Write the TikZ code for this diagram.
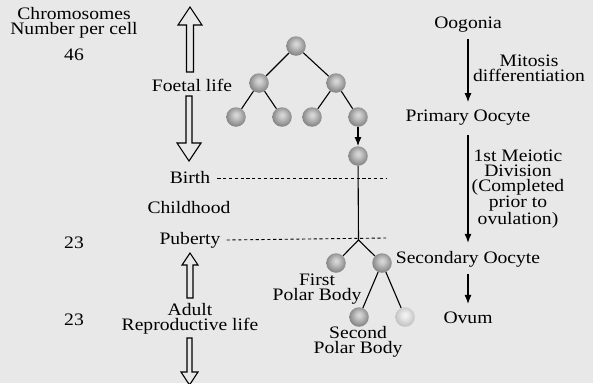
\documentclass[tikz,border=0pt]{standalone}
\usepackage{fontspec}
\setmainfont{Liberation Serif}[FakeStretch=1.12]
\usetikzlibrary{arrows.meta}
\definecolor{bg}{RGB}{232,232,232}
\pgfdeclareradialshading{myball}{\pgfpoint{0bp}{6bp}}{color(0bp)=(black!14); color(8bp)=(black!22); color(24bp)=(black!45); color(38bp)=(black!65); color(46bp)=(black!78); color(50bp)=(black!82)}
\pgfdeclareradialshading{mylball}{\pgfpoint{0bp}{6bp}}{color(0bp)=(black!4); color(10bp)=(black!10); color(26bp)=(black!24); color(40bp)=(black!38); color(46bp)=(black!48); color(50bp)=(black!55)}
\begin{document}
\begin{tikzpicture}[x=1pt,y=-1pt,
  txt/.style={font=\fontsize{17.5}{15}\selectfont, inner sep=0pt, align=center},
  ball/.style={circle, minimum size=19.5pt, inner sep=0pt, shading=myball},
  lball/.style={circle, minimum size=19.5pt, inner sep=0pt, shading=mylball},
  conn/.style={line width=1.1pt},
  arr/.style={line width=1.1pt, -{Latex[length=9pt,width=7pt]}},
  hol/.style={draw, line width=1.1pt, fill=bg, line join=miter},
  dline/.style={line width=0.9pt, dash pattern=on 3.2pt off 2.6pt}
]
\fill[bg] (0,0) rectangle (593,383);
\useasboundingbox (0,0) rectangle (593,383);

% left column
\node[txt] (chr) at (74,23) {Chromosomes\\Number per cell};
\node[txt] (n46) at (74,55) {46};
\node[txt] (n23a) at (74,243) {23};
\node[txt] (n23b) at (74,320) {23};

% middle labels
\node[txt] (foetal) at (192,85) {Foetal life};
\node[txt] (birth) at (190,178) {Birth};
\node[txt] (child) at (189,208) {Childhood};
\node[txt] (pub) at (190,240) {Puberty};
\node[txt] (adult) at (190,319) {Adult\\Reproductive life};

% hollow arrows
\draw[hol] (186.5,72) -- (186.5,25) -- (178,25) -- (190,7) -- (202,25) -- (193.5,25) -- (193.5,72) -- cycle;
\draw[hol] (186,96) -- (186,143) -- (177,143) -- (189,161) -- (201,143) -- (192,143) -- (192,96) -- cycle;
\draw[hol] (187,298) -- (187,265) -- (182,265) -- (190,253) -- (198,265) -- (193,265) -- (193,298) -- cycle;
\draw[hol] (187,338) -- (187,372) -- (181,372) -- (189.5,385) -- (198,372) -- (192,372) -- (192,338) -- cycle;

% dashed lines
\coordinate (bEnd) at (386,178);
\coordinate (pEnd) at (386,238);
\draw[dline] ([xshift=7pt]birth.east) -- (bEnd);
\draw[dline] ([xshift=6pt]pub.east) -- (pEnd);

% tree
\node[ball] (r) at (296,46) {};
\node[ball] (a1) at (259,83) {};
\node[ball] (a2) at (336,83) {};
\node[ball] (b1) at (236,117) {};
\node[ball] (b2) at (282,117) {};
\node[ball] (b3) at (312,117) {};
\node[ball] (b4) at (358,117) {};
\node[ball] (c) at (358,156) {};
\coordinate (fork) at (358.5,240);
\node[ball] (p1) at (336,263) {};
\node[ball] (s2) at (382,263) {};
\node[ball] (p2) at (359,317) {};
\node[lball] (ov) at (405,317) {};
\draw[conn] (r) -- (a1);
\draw[conn] (r) -- (a2);
\draw[conn] (a1) -- (b1);
\draw[conn] (a1) -- (b2);
\draw[conn] (a2) -- (b3);
\draw[conn] (a2) -- (b4);
\draw[arr] (b4) -- (c);
\draw[conn] (c) -- (fork);
\draw[conn] (fork) -- (p1);
\draw[conn] (fork) -- (s2);
\draw[conn] (s2) -- (p2);
\draw[conn] (s2) -- (ov);
\node[txt] (fpb) at (317,289) {First\\Polar Body};
\node[txt] (spb) at (358,342) {Second\\Polar Body};

% right column
\node[txt] (oog) at (468,25) {Oogonia};
\node[txt] (mit) at (529,68) {Mitosis\\differentiation};
\node[txt] (prim) at (468,118) {Primary Oocyte};
\node[txt] (mei) at (518,189) {1st Meiotic\\Division\\(Completed\\prior to\\ovulation)};
\node[txt] (sec) at (468,259) {Secondary Oocyte};
\node[txt] (ovum) at (468,318) {Ovum};
\draw[arr, shorten <=6pt, shorten >=8pt] (oog) -- (prim);
\draw[arr, shorten <=9pt, shorten >=8pt] (prim) -- (sec);
\draw[arr, shorten <=7pt, shorten >=8pt] (sec) -- (ovum);
\end{tikzpicture}
\end{document}
